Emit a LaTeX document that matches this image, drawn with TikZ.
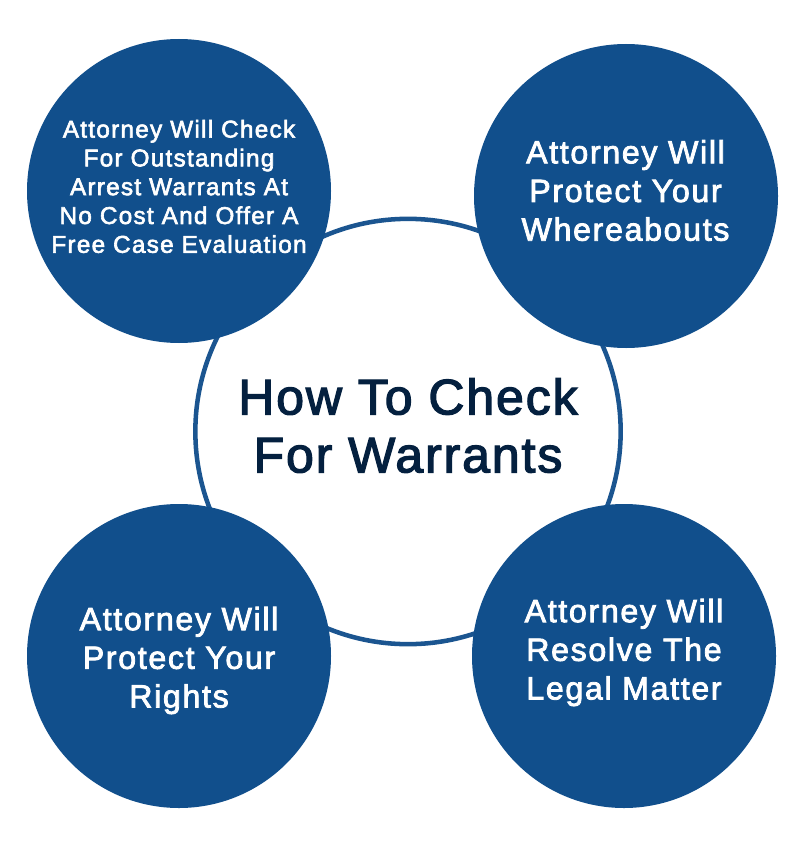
\documentclass[tikz,border=0pt]{standalone}
\usepackage{fontspec}
\setmainfont{Liberation Sans}
\newfontfamily\bubfont[LetterSpace=5.2,FakeBold=2.5]{Liberation Sans}
\newfontfamily\bubsfont[LetterSpace=5.3,FakeBold=2.5]{Liberation Sans}
\newfontfamily\titlefont[LetterSpace=3.8,FakeBold=2.5]{Liberation Sans}
\definecolor{blob}{HTML}{114F8C}
\definecolor{ringc}{HTML}{1B5590}
\definecolor{titlec}{HTML}{04203F}
\tikzset{
  bub/.style={circle,fill=blob,draw=none,minimum size=228pt,inner sep=0pt},
  lab/.style={text=white,align=center,inner sep=0pt},
  big/.style={font=\bubfont\fontsize{24.1}{29}\selectfont},
  small/.style={font=\bubsfont\fontsize{18.2}{21.6}\selectfont},
}
\begin{document}
\begin{tikzpicture}[x=0.75pt,y=-0.75pt]
\useasboundingbox[fill=white] (0,0) rectangle (808,845);
\node[circle,draw=ringc,line width=3.4pt,minimum size=319pt,inner sep=0pt] (ring) at (408,431.5) {};
\node[align=center,text=titlec,font=\titlefont\fontsize{37.5}{43.5}\selectfont] (title) at (408,425.5) {How To Check\\For Warrants};
\node[bub] (a) at (179,191) {};
\node[bub] (b) at (626,196) {};
\node[bub] (c) at (179,656) {};
\node[bub] (d) at (624,656) {};
\node[lab,small] (at) at (179,186.5) {Attorney Will Check\\For Outstanding\\Arrest Warrants At\\No Cost And Offer A\\Free Case Evaluation};
\node[lab,big] (bt) at (625.5,190.5) {Attorney Will\\Protect Your\\Whereabouts};
\node[lab,big] (ct) at (179,660.5) {Attorney Will\\Protect Your\\Rights};
\node[lab,big] (dt) at (624,652.5) {Attorney Will\\Resolve The\\Legal Matter};
\end{tikzpicture}
\end{document}
